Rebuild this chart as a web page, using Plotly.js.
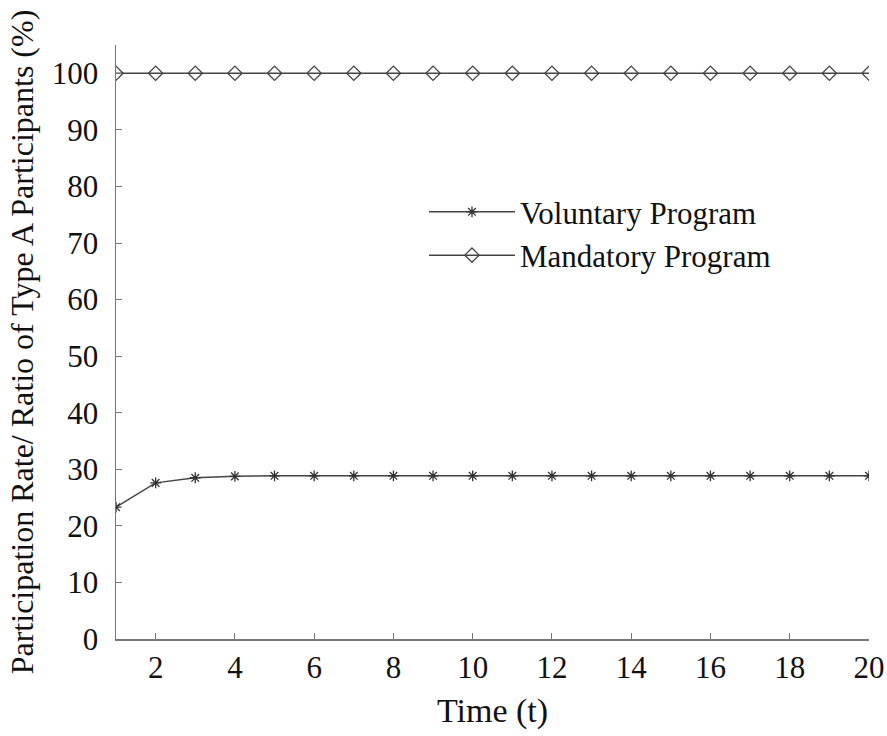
<!DOCTYPE html>
<html>
<head>
<meta charset="utf-8">
<script src="https://cdn.plot.ly/plotly-3.0.1.min.js"></script>
<style>html,body{margin:0;padding:0;background:#fff;}#chart{width:887px;height:736px;}</style>
</head>
<body>
<div id="chart"></div>
<script>
const timeSteps = [1,2,3,4,5,6,7,8,9,10,11,12,13,14,15,16,17,18,19,20];
const voluntary = [23.3,27.6,28.5,28.75,28.85,28.85,28.85,28.85,28.85,28.85,28.85,28.85,28.85,28.85,28.85,28.85,28.85,28.85,28.85,28.85];
const mandatory = [100,100,100,100,100,100,100,100,100,100,100,100,100,100,100,100,100,100,100,100];
const xTicks = [2,4,6,8,10,12,14,16,18,20];
const yTicks = [0,10,20,30,40,50,60,70,80,90,100];

const font = {family: '"Liberation Serif", "Times New Roman", serif', color: '#111'};
const traces = [
  {x: timeSteps, y: voluntary, name: 'Voluntary Program', mode: 'lines+markers',
   line: {color: '#444', width: 1.5},
   marker: {symbol: 'asterisk-open', size: 9, color: '#333', line: {color: '#333', width: 1.3}}},
  {x: timeSteps, y: mandatory, name: 'Mandatory Program', mode: 'lines+markers',
   line: {color: '#444', width: 1.5},
   marker: {symbol: 'diamond-open', size: 11, color: '#444', line: {color: '#444', width: 1.3}}}
];
const layout = {
  width: 887, height: 736,
  margin: {l: 116, r: 18, t: 45, b: 97},
  paper_bgcolor: '#fff', plot_bgcolor: '#fff',
  font: Object.assign({size: 30}, font),
  showlegend: true,
  legend: {x: 0.409, y: 0.764, xanchor: 'left', yanchor: 'top', bgcolor: 'rgba(0,0,0,0)',
           font: Object.assign({size: 31}, font), itemwidth: 86, tracegroupgap: 0},
  xaxis: {range: [1, 20], tickvals: xTicks, ticks: 'inside', ticklen: 6, tickcolor: '#777',
          showline: true, linecolor: '#777', linewidth: 1.5, showgrid: false, zeroline: false,
          tickfont: Object.assign({size: 31}, font),
          title: {text: 'Time (t)', font: Object.assign({size: 34}, font), standoff: 14}},
  yaxis: {range: [0, 105], tickvals: yTicks, ticks: 'inside', ticklen: 6, tickcolor: '#777',
          showline: true, linecolor: '#777', linewidth: 1.5, showgrid: false, zeroline: false,
          ticklabelstandoff: 10,
          tickfont: Object.assign({size: 31}, font),
          title: {text: 'Participation Rate/ Ratio of Type A Participants (%)', font: Object.assign({size: 32}, font), standoff: 8}}
};
Plotly.newPlot('chart', traces, layout, {displayModeBar: false, staticPlot: true});
</script>
</body>
</html>
